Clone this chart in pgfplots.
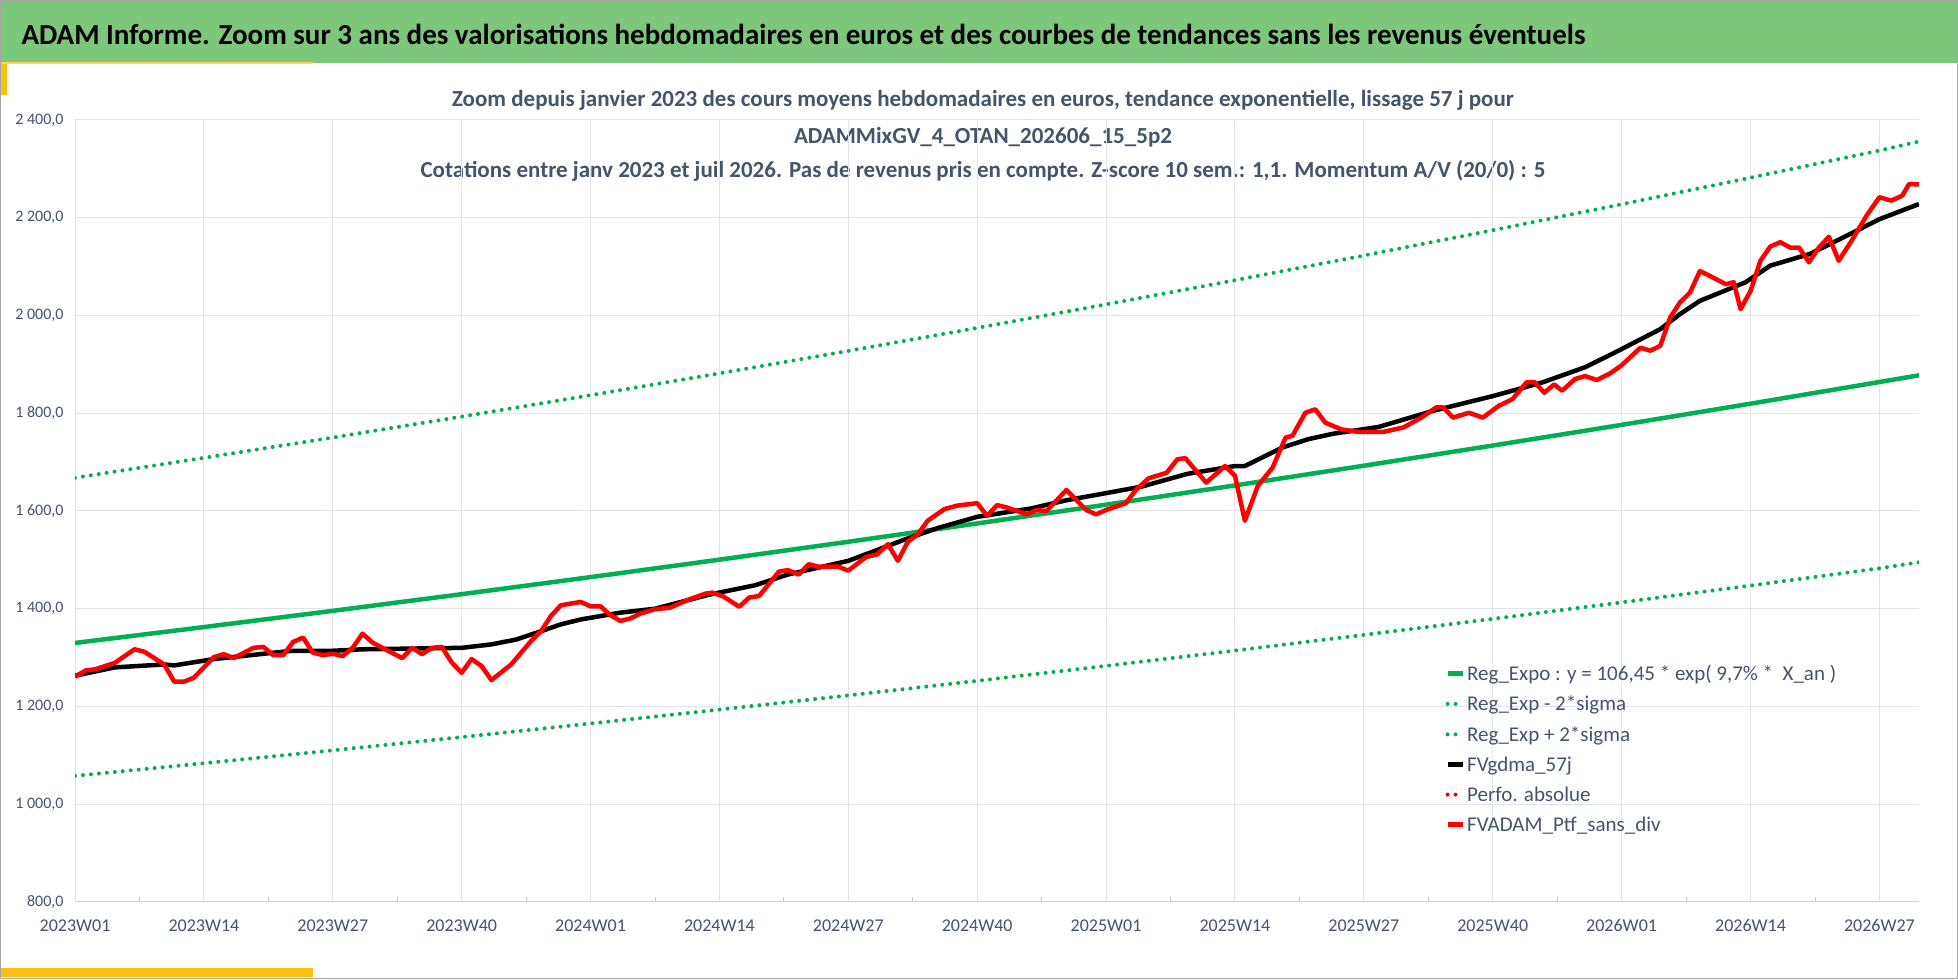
\documentclass[border=0pt]{standalone}
\usepackage{pgfplots}
\pgfplotsset{compat=1.18}
\usepackage{fontspec}
\setmainfont{Carlito}
\definecolor{banner}{HTML}{7DC77D}
\definecolor{yelbar}{HTML}{FDC010}
\definecolor{gline}{HTML}{00B050}
\definecolor{sub}{HTML}{44546A}
\definecolor{grid}{HTML}{E1E5EB}
\definecolor{lab}{HTML}{44546A}
\begin{document}
\begin{tikzpicture}[x=1bp,y=1bp]
\fill[white] (0,0) rectangle (1958,979);
\useasboundingbox (0,0) rectangle (1958,979);
\fill[banner] (0,916) rectangle (1958,979);
\fill[yelbar] (0,884) rectangle (7,916);
\fill[yelbar!70] (0,915) rectangle (313,917);
\fill[yelbar] (0,2) rectangle (313,11);
\draw[gray!70,line width=1bp] (0.5,0.5) rectangle (1957.5,978.5);
\node[anchor=west,font=\bfseries\fontsize{29bp}{33bp}\selectfont] at (18,945) {ADAM Informe. Zoom sur 3 ans des valorisations hebdomadaires en euros et des courbes de tendances sans les revenus éventuels};
\node[text=sub,font=\bfseries\fontsize{23bp}{26bp}\selectfont] at (983,879) {Zoom depuis janvier 2023 des cours moyens hebdomadaires en euros, tendance exponentielle, lissage 57 j pour};
\node[text=sub,font=\bfseries\fontsize{23bp}{26bp}\selectfont] at (983,842) {ADAMMixGV\_4\_OTAN\_202606\_15\_5p2};
\node[text=sub,font=\bfseries\fontsize{23bp}{26bp}\selectfont] at (983,808) {Cotations entre janv 2023 et juil 2026. Pas de revenus pris en compte. Z-score 10 sem.: 1,1. Momentum A/V (20/0) : 5};
\begin{axis}[
  at={(75bp,77bp)}, anchor=south west, scale only axis,
  width=1844bp, height=782bp,
  xmin=0, xmax=186, ymin=800, ymax=2400,
  axis line style={draw=none},
  axis x line*=bottom,
  x axis line style={draw=grid!80!gray, line width=1bp},
  y axis line style={draw=none},
  xtick={0,13,...,182},
  xticklabels={2023W01,2023W14,2023W27,2023W40,2024W01,2024W14,2024W27,2024W40,2025W01,2025W14,2025W27,2025W40,2026W01,2026W14,2026W27},
  minor x tick num=1,
  ytick={800,1000,...,2400},
  yticklabels={{800,0},{1 000,0},{1 200,0},{1 400,0},{1 600,0},{1 800,0},{2 000,0},{2 200,0},{2 400,0}},
  grid=major, major grid style={draw=grid, line width=1bp},
  tick style={draw=none},
  minor x tick style={draw=grid!70!gray, line width=0.8bp},
  minor tick length=5bp,
  xticklabel style={font=\fontsize{18bp}{20bp}\selectfont, text=lab, yshift=-14bp},
  yticklabel style={font=\fontsize{16bp}{18bp}\selectfont, text=lab, xshift=-8bp, anchor=east},
  legend style={at={(0.743,0.306)}, anchor=north west, draw=none, fill=none,
    font=\fontsize{21bp}{23bp}\selectfont, text=lab, row sep=10bp, inner sep=0pt},
  legend cell align=left,
  legend image post style={xscale=0.9},
]
\addplot[gline, line width=4.5bp] coordinates {(0,1330)(13,1362.5)(26,1395.7)(39,1429.8)(52,1464.7)(65,1500.4)(78,1537.0)(91,1574.5)(104,1612.9)(117,1652.3)(130,1692.6)(143,1733.9)(156,1776.2)(169,1819.5)(182,1863.9)(186,1877.6)};
\addlegendentry{Reg\_Expo : y = 106,45 * exp( 9,7\% *\ \ X\_an )}
\addplot[gline, line width=4bp, line cap=round, dash pattern=on 0bp off 8bp] coordinates {(0,1058)(13,1083.9)(26,1110.3)(39,1137.4)(52,1165.2)(65,1193.6)(78,1222.7)(91,1252.5)(104,1283.1)(117,1314.4)(130,1346.5)(143,1379.3)(156,1413.0)(169,1447.4)(182,1482.7)(186,1495)};
\addlegendentry{Reg\_Exp - 2*sigma}
\addplot[gline, line width=4bp, line cap=round, dash pattern=on 0bp off 8bp] coordinates {(0,1668)(13,1708.7)(26,1750.3)(39,1793.1)(52,1836.9)(65,1881.6)(78,1927.5)(91,1974.6)(104,2022.7)(117,2072.1)(130,2122.7)(143,2174.5)(156,2227.5)(169,2281.9)(182,2337.5)(186,2356)};
\addlegendentry{Reg\_Exp + 2*sigma}
\addplot[black, line width=4.5bp] coordinates {(0,1263)(4,1280)(9,1286)(10,1284)(14,1297)(20,1310)(22,1314)(26,1314)(29,1317)(39,1320)(42,1327)(44.5,1337)(47,1354)(49,1368)(51,1378)(55,1392)(58.5,1400)(64,1429)(68.6,1448)(71.9,1470)(78,1498)(80.5,1517)(84,1544)(87,1565)(91,1588)(96.4,1605)(100,1622)(104.4,1638)(107.6,1650)(112.2,1676)(117,1692)(118,1692)(121.8,1730)(124.4,1747)(126.9,1758)(131.5,1772)(137,1805)(143,1835)(148,1863)(152.3,1894)(155.3,1924)(159.9,1972)(161.9,2003)(163.9,2030)(168.5,2068)(171,2102)(175,2126)(178,2156)(182,2197)(186,2228)};
\addlegendentry{FVgdma\_57j}
\addlegendimage{red, line width=4bp, line cap=round, dash pattern=on 0bp off 8bp}
\addlegendentry{Perfo. absolue}
\addplot[red, line width=4.5bp, line join=round] coordinates {(0,1261)(1.1,1274)(2,1276)(4,1289)(6,1317)(7,1312)(9,1286)(10,1251)(11,1251)(12,1259)(14,1301)(15,1307)(16,1299)(18,1320)(19,1322)(20,1305)(21,1305)(22,1332)(23,1341)(24,1310)(25,1305)(26,1308)(27,1303)(28,1320)(29,1349)(30,1331)(31,1320)(33,1299)(34,1320)(35,1307)(36,1320)(37,1322)(38,1290)(39,1269)(40,1297)(41,1283)(42,1254)(44,1286)(46,1334)(47,1354)(48,1385)(49,1407)(51,1414)(52,1405)(53,1405)(54,1387)(55,1375)(56,1380)(57,1390)(58.5,1399)(60,1402)(61.8,1418)(63.6,1431)(64.3,1433)(65.4,1425)(67,1404)(68,1423)(69,1426)(71,1476)(71.9,1479)(73,1470)(74,1491)(75,1486)(77,1486)(78,1478)(79.8,1506)(80.9,1511)(82,1532)(83,1498)(84,1537)(85,1552)(86,1580)(87.7,1604)(89,1611)(91,1616)(92,1590)(93,1612)(94,1607)(96,1593)(97,1602)(98,1600)(100,1643)(102,1602)(103,1593)(104,1602)(106,1616)(107,1643)(108.3,1667)(110.1,1678)(111.2,1706)(112,1708)(114.1,1658)(116,1692)(117,1672)(118,1580)(119.3,1651)(120.8,1689)(122.1,1750)(122.8,1754)(124.1,1801)(125.1,1808)(126.1,1781)(127.7,1767)(129.4,1762)(132,1762)(134,1771)(135.8,1791)(137.3,1812)(138,1812)(139,1791)(140.6,1801)(142,1791)(143.6,1815)(145,1829)(146.4,1863)(147.2,1864)(148.2,1842)(149.2,1859)(150,1846)(151.3,1870)(152.3,1876)(153.5,1868)(154.8,1881)(156,1898)(157.9,1934)(158.9,1928)(159.9,1938)(160.9,1996)(161.9,2027)(162.9,2047)(163.9,2091)(164.9,2081)(166.5,2064)(167.3,2068)(168,2013)(169,2050)(170,2112)(171,2141)(172,2150)(173,2139)(173.9,2139)(174.9,2109)(175.9,2139)(176.9,2161)(177.9,2112)(179.2,2153)(180.7,2204)(182,2242)(183.2,2235)(184.3,2245)(185,2269)(186,2268)};
\addlegendentry{FVADAM\_Ptf\_sans\_div}
\end{axis}
\end{tikzpicture}
\end{document}
